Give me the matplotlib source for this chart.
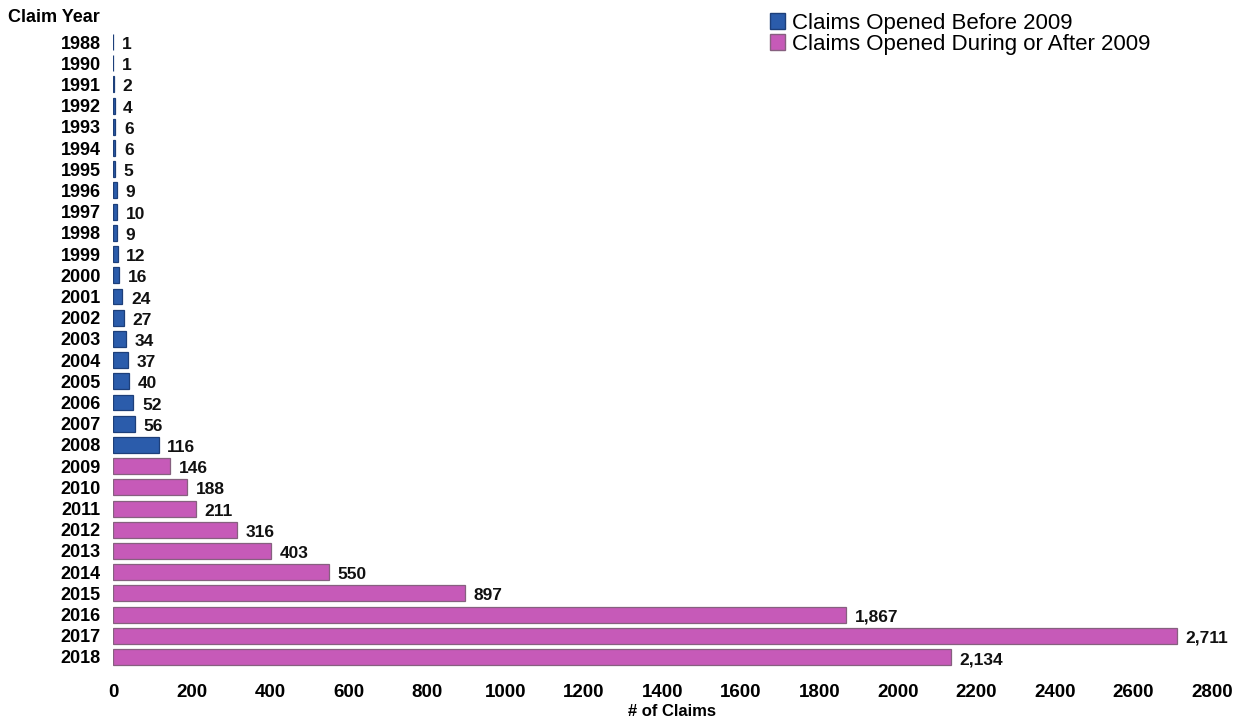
import matplotlib
matplotlib.use("Agg")
import matplotlib.pyplot as plt
from matplotlib.patches import Patch

plt.rcParams['font.family'] = ['Liberation Sans', 'DejaVu Sans']

years = ['1988', '1990', '1991', '1992', '1993', '1994', '1995', '1996', '1997', '1998',
         '1999', '2000', '2001', '2002', '2003', '2004', '2005', '2006', '2007', '2008',
         '2009', '2010', '2011', '2012', '2013', '2014', '2015', '2016', '2017', '2018']
claims = [1, 1, 2, 4, 6, 6, 5, 9, 10, 9,
          12, 16, 24, 27, 34, 37, 40, 52, 56, 116,
          146, 188, 211, 316, 403, 550, 897, 1867, 2711, 2134]
xticks = [0, 200, 400, 600, 800, 1000, 1200, 1400, 1600, 1800, 2000, 2200, 2400, 2600, 2800]
legend_labels = ['Claims Opened Before 2009', 'Claims Opened During or After 2009']

blue = '#2b5cab'
pink = '#c65ab8'

fig = plt.figure(figsize=(12.36, 7.21), dpi=100)
ax = fig.add_axes([113/1236, 1 - 667.6/721, (1212-113)/1236, (667.6-31.4)/721])

colors = [blue if int(y) < 2009 else pink for y in years]
edges = ['#1d3f7a' if int(y) < 2009 else '#86607f' for y in years]
pos = list(range(len(years)))
ax.barh(pos, claims, height=0.75, color=colors, edgecolor=edges, linewidth=0.9)

for p, v in zip(pos, claims):
    ax.text(v + 22, p + 0.12, f'{v:,}', va='center', ha='left', fontsize=12.5,
            fontweight='bold', color='#111111')

ax.set_ylim(len(years) - 0.5, -0.5)
ax.set_xlim(0, 2800)
ax.set_yticks(pos)
ax.set_yticklabels(years, fontsize=13, fontweight='bold')
ax.set_xticks(xticks)
ax.set_xticklabels([str(t) for t in xticks], fontsize=13.5, fontweight='bold')
ax.tick_params(axis='y', length=0, pad=9)
ax.tick_params(axis='x', length=0, pad=12)
for s in ax.spines.values():
    s.set_visible(False)

fig.text(672/1236, 1 - 711/721, '# of Claims', fontsize=12, fontweight='bold',
         ha='center', va='center')

fig.text(8/1236, 1 - 18/721, 'Claim Year', fontsize=13, fontweight='bold',
         ha='left', va='center')

handles = [Patch(facecolor=blue, edgecolor='#1d3f7a'), Patch(facecolor=pink, edgecolor='#86607f')]
fig.legend(handles, legend_labels, loc='upper left', bbox_to_anchor=(761/1236, 1 - 4/721),
           frameon=False, fontsize=16, handlelength=0.7, handleheight=0.7,
           handletextpad=0.3, labelspacing=0.0, borderaxespad=0)

fig.savefig('out.png', dpi=100)
